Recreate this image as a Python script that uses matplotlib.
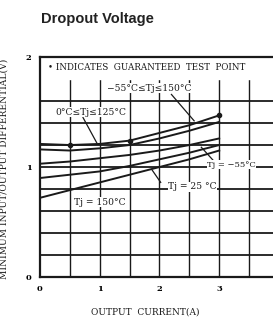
import matplotlib
matplotlib.use("Agg")
import matplotlib.pyplot as plt

# ---- data ----
current = [0, 0.5, 1, 1.5, 2, 2.5, 3]
guaranteed = [1.21, 1.20, 1.21, 1.24, 1.31, 1.38, 1.47]      # -55°C <= Tj <= 150°C
range_0_125 = [1.16, 1.15, 1.17, 1.20, 1.26, 1.33, 1.41]     # 0°C <= Tj <= 125°C
tj_m55 = [1.03, 1.05, 1.08, 1.11, 1.15, 1.20, 1.26]
tj_25 = [0.90, 0.93, 0.96, 1.01, 1.07, 1.13, 1.20]
tj_150 = [0.72, 0.79, 0.86, 0.93, 1.00, 1.07, 1.15]
test_x = [0.5, 1.5, 3]
test_y = [1.20, 1.24, 1.47]

x_ticks = [0, 1, 2, 3]
y_ticks = [0, 1, 2]

ink = "#1a1a1a"
serif = "DejaVu Serif"

fig = plt.figure(figsize=(2.73, 3.22), dpi=100)
ax = fig.add_axes([0.1465, 0.1398, 0.8535, 0.683])
ax.set_xlim(0, 3.9)
ax.set_ylim(0, 2)

# grid
for gx in [0.5 * i for i in range(1, 8)]:
    ax.axvline(gx, color=ink, lw=1.0, zorder=1)
for gy in [0.2 * i for i in range(1, 10)]:
    ax.axhline(gy, color=ink, lw=1.3, zorder=1)

for s in ["left", "bottom", "top"]:
    ax.spines[s].set_linewidth(1.6)
    ax.spines[s].set_color(ink)
ax.spines["right"].set_visible(False)

# curves
for ys in [guaranteed, range_0_125, tj_m55, tj_25, tj_150]:
    ax.plot(current, ys, color=ink, lw=1.4, zorder=3)
ax.plot(test_x, test_y, "o", color=ink, ms=3, zorder=4)

ax.set_xticks(x_ticks)
ax.set_yticks(y_ticks)
ax.set_xticklabels([str(v) for v in x_ticks], fontsize=6, family=serif, fontweight="bold")
ax.set_yticklabels([str(v) for v in y_ticks], fontsize=6, family=serif, fontweight="bold")
ax.tick_params(length=0, pad=6)

# header row
ax.fill_between([0.01, 3.9], 1.805, 1.99, color="white", zorder=2)
box = dict(facecolor="white", edgecolor="none", pad=0.3)
fs = 6.6
ax.text(0.13, 1.905, "• INDICATES  GUARANTEED  TEST  POINT", fontsize=6.3, family=serif,
        va="center", ha="left", color=ink, zorder=5)
ax.text(1.83, 1.715, "−55°C≤Tj≤150°C", fontsize=fs, family=serif, va="center", ha="center",
        color=ink, zorder=5, bbox=box)
ax.text(0.85, 1.50, "0°C≤Tj≤125°C", fontsize=fs, family=serif, va="center", ha="center",
        color=ink, zorder=5, bbox=box)
ax.text(2.8, 1.02, "Tj = −55°C", fontsize=6.0, family=serif, va="center", ha="left",
        color=ink, zorder=5, bbox=box)
ax.text(2.55, 0.82, "Tj = 25 °C", fontsize=fs, family=serif, va="center", ha="center",
        color=ink, zorder=5, bbox=box)
ax.text(1.0, 0.68, "Tj = 150°C", fontsize=fs, family=serif, va="center", ha="center",
        color=ink, zorder=5, bbox=box)

# leaders
ax.plot([2.2, 2.58], [1.66, 1.42], color=ink, lw=0.9, zorder=4)
ax.plot([0.72, 0.95], [1.45, 1.22], color=ink, lw=0.9, zorder=4)
ax.plot([2.7, 2.9], [1.18, 1.06], color=ink, lw=0.9, zorder=4)
ax.plot([1.88, 2.02], [0.97, 0.86], color=ink, lw=0.9, zorder=4)

ax.set_xlabel("OUTPUT  CURRENT(A)", fontsize=6.5, family=serif, color=ink)
ax.set_ylabel("MINIMUM INPUT/OUTPUT DIFFERENTIAL(V)", fontsize=6.6, family=serif,
              color=ink)
ax.yaxis.set_label_coords(-0.135, 0.49)
ax.xaxis.set_label_coords(0.45, -0.14)

fig.text(0.15, 0.94, "Dropout Voltage", fontsize=10.5, fontweight="bold",
         family="Liberation Sans", color="#222222", va="center", ha="left")

fig.savefig("out.png", dpi=100)
